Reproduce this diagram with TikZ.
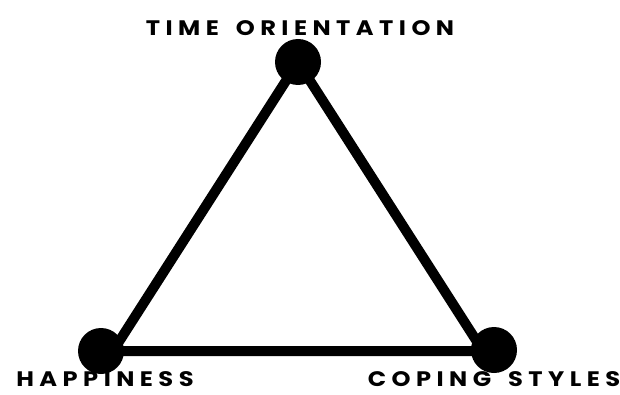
\documentclass[tikz,border=0pt]{standalone}
\usepackage{fontspec}
\newfontfamily\labelfont[LetterSpace=26,FakeStretch=1.15,WordSpace=1.6]{Poppins}
\begin{document}
\begin{tikzpicture}[x=1pt,y=1pt,
  edge/.style={line width=10pt},
  dot/.style={circle,fill=black,minimum size=46pt,inner sep=0pt},
  lbl/.style={inner sep=0pt,anchor=base,font=\labelfont\bfseries\fontsize{21}{21}\selectfont}]
\useasboundingbox (0,0) rectangle (620,394);
\coordinate (tv) at (298,332);
\coordinate (lv) at (113,43);
\coordinate (rv) at (483,43);
\draw[edge] (tv) -- (lv) -- (rv) -- cycle;
\node[dot] (top) at (298,332) {};
\node[dot] (left) at (101,43) {};
\node[dot] (right) at (494,44) {};
\node[lbl] (tl) at (300,358) {TIME ORIENTATION};
\node[lbl] (hl) at (105,8) {HAPPINESS};
\node[lbl] (cl) at (494,8) {COPING STYLES};
\end{tikzpicture}
\end{document}
